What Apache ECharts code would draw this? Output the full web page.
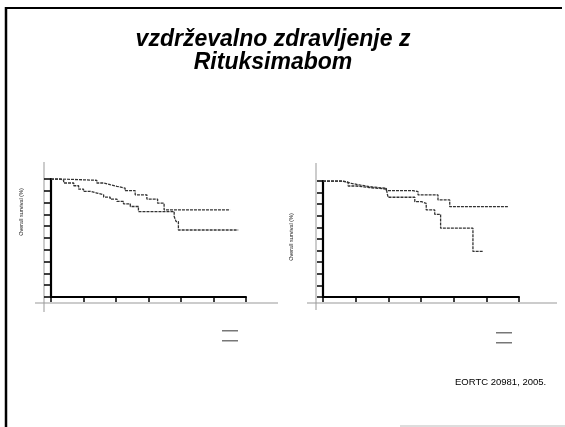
<!DOCTYPE html>
<html>
<head>
<meta charset="utf-8">
<script src="https://cdn.jsdelivr.net/npm/echarts@6/dist/echarts.min.js"></script>
<style>html,body{margin:0;padding:0;background:#fff}#c{width:565px;height:427px}</style>
</head>
<body>
<div id="c"></div>
<script>
// Title and notes
const titleText = 'vzdrževalno zdravljenje z\nRituksimabom';
const axisName = 'Overall survival (%)';
const sourceNote = 'EORTC 20981, 2005.';

// Axis ranges / ticks (no tick labels are printed on the slide)
const xMin = 0, xMax = 6, xStep = 1;
const yMin = 0, yMax = 100, yStep = 10;

// Left panel: Kaplan-Meier curves (time in axis units, survival %)
const leftTimesA = [0, 0.34, 1.41, 1.62, 1.82, 2.03, 2.28, 2.59, 2.95, 3.28, 3.48, 5.51];
const leftSurvA  = [100, 98.9, 96.6, 95.2, 93.8, 92.3, 90.1, 86.6, 83.0, 79.5, 73.9, 73.9];
const leftTimesB = [0, 0.29, 0.39, 0.70, 0.85, 1.0, 1.21, 1.41, 1.62, 1.82, 2.03, 2.23, 2.44, 2.69, 3.79, 3.85, 3.92, 5.76];
const leftSurvB  = [100, 98.9, 96.6, 94.3, 91.5, 89.5, 88.1, 86.6, 84.7, 83.0, 81.0, 79.0, 76.7, 72.4, 68.2, 63.9, 56.8, 56.8];

// Right panel
const rightTimesA = [0, 0.56, 0.71, 0.87, 1.12, 1.43, 1.94, 2.76, 2.91, 3.52, 3.88, 5.66];
const rightSurvA  = [100, 99.4, 98.0, 96.6, 95.1, 93.7, 91.7, 90.8, 88.0, 83.7, 77.9, 77.9];
const rightTimesB = [0, 0.61, 0.77, 1.02, 1.43, 1.94, 1.99, 2.81, 3.01, 3.16, 3.42, 3.60, 4.59, 4.90];
const rightSurvB  = [100, 98.6, 95.7, 94.3, 93.1, 91.7, 86.0, 82.2, 80.8, 75.1, 71.3, 59.3, 39.3, 39.3];

const pairs = (t, v) => t.map((x, i) => [x, v[i]]);

const chart = echarts.init(document.getElementById('c'), null, {renderer: 'canvas'});

const curveStyle = {color: '#333', width: 1.3, type: [3, 1]};

function xAx(gi, tickLen) {
  return {
    type: 'value', gridIndex: gi, min: xMin, max: xMax, interval: xStep,
    axisLine: {show: true, lineStyle: {color: '#000', width: 2}},
    axisTick: {show: true, length: tickLen, lineStyle: {color: '#000', width: 1.5}},
    axisLabel: {show: false}, splitLine: {show: false}
  };
}
function yAx(gi, tickLen) {
  return {
    type: 'value', gridIndex: gi, min: yMin, max: yMax, interval: yStep,
    axisLine: {show: true, lineStyle: {color: '#000', width: 2.2}},
    axisTick: {show: true, length: tickLen, lineStyle: {color: '#000', width: 1.5}},
    axisLabel: {show: false}, splitLine: {show: false}
  };
}
function curve(name, gi, data) {
  return {
    name: name, type: 'line', xAxisIndex: gi, yAxisIndex: gi, step: 'end',
    data: data, symbol: 'none', lineStyle: curveStyle, itemStyle: {color: '#333'},
    animation: false
  };
}

const fontFam = '"Liberation Sans", Arial, sans-serif';
const legendBase = {
  orient: 'vertical', padding: 0, itemWidth: 16, itemHeight: 1.5, itemGap: 8.5,
  icon: 'rect', formatter: () => '', textStyle: {fontSize: 1}, selectedMode: false,
  itemStyle: {color: '#777'}
};

chart.setOption({
  backgroundColor: '#fff',
  animation: false,
  title: {
    text: titleText, left: 268, top: 23, textAlign: 'center',
    textStyle: {fontFamily: fontFam, fontSize: 23, fontWeight: 'bold', fontStyle: 'italic', color: '#000', lineHeight: 23}
  },
  grid: [
    {left: 51, top: 179, width: 195, height: 118},
    {left: 323, top: 181, width: 196, height: 116}
  ],
  xAxis: [xAx(0, 5), xAx(1, 5)],
  yAxis: [yAx(0, 7), yAx(1, 6)],
  legend: [
    Object.assign({data: ['L1', 'L2'], left: 222, top: 330}, legendBase),
    Object.assign({data: ['R1', 'R2'], left: 496, top: 332}, legendBase)
  ],
  series: [
    curve('L1', 0, pairs(leftTimesA, leftSurvA)),
    curve('L2', 0, pairs(leftTimesB, leftSurvB)),
    curve('R1', 1, pairs(rightTimesA, rightSurvA)),
    curve('R2', 1, pairs(rightTimesB, rightSurvB))
  ],
  graphic: [
    // slide frame
    {type: 'line', shape: {x1: 6, y1: 7, x2: 6, y2: 427}, style: {stroke: '#000', lineWidth: 2.5}, silent: true},
    {type: 'line', shape: {x1: 5, y1: 8, x2: 562, y2: 8}, style: {stroke: '#000', lineWidth: 2}, silent: true},
    {type: 'line', shape: {x1: 400, y1: 426, x2: 565, y2: 426}, style: {stroke: '#bbb', lineWidth: 1}, silent: true},
    // scanned thin reference lines around the panels
    {type: 'line', shape: {x1: 44, y1: 162, x2: 44, y2: 312}, style: {stroke: '#999', lineWidth: 1}, silent: true},
    {type: 'line', shape: {x1: 35, y1: 303, x2: 278, y2: 303}, style: {stroke: '#999', lineWidth: 1}, silent: true},
    {type: 'line', shape: {x1: 316, y1: 163, x2: 316, y2: 310}, style: {stroke: '#999', lineWidth: 1}, silent: true},
    {type: 'line', shape: {x1: 307, y1: 303, x2: 557, y2: 303}, style: {stroke: '#999', lineWidth: 1}, silent: true},
    // axis names
    {type: 'text', x: 21, y: 212, rotation: Math.PI / 2,
     style: {text: axisName, font: '5.5px ' + fontFam, fill: '#222', textAlign: 'center', textVerticalAlign: 'middle'}},
    {type: 'text', x: 291, y: 237, rotation: Math.PI / 2,
     style: {text: axisName, font: '5.5px ' + fontFam, fill: '#222', textAlign: 'center', textVerticalAlign: 'middle'}},
    // source
    {type: 'text', x: 455, y: 377,
     style: {text: sourceNote, font: '9.5px ' + fontFam, fill: '#000'}}
  ]
});
</script>
</body>
</html>
